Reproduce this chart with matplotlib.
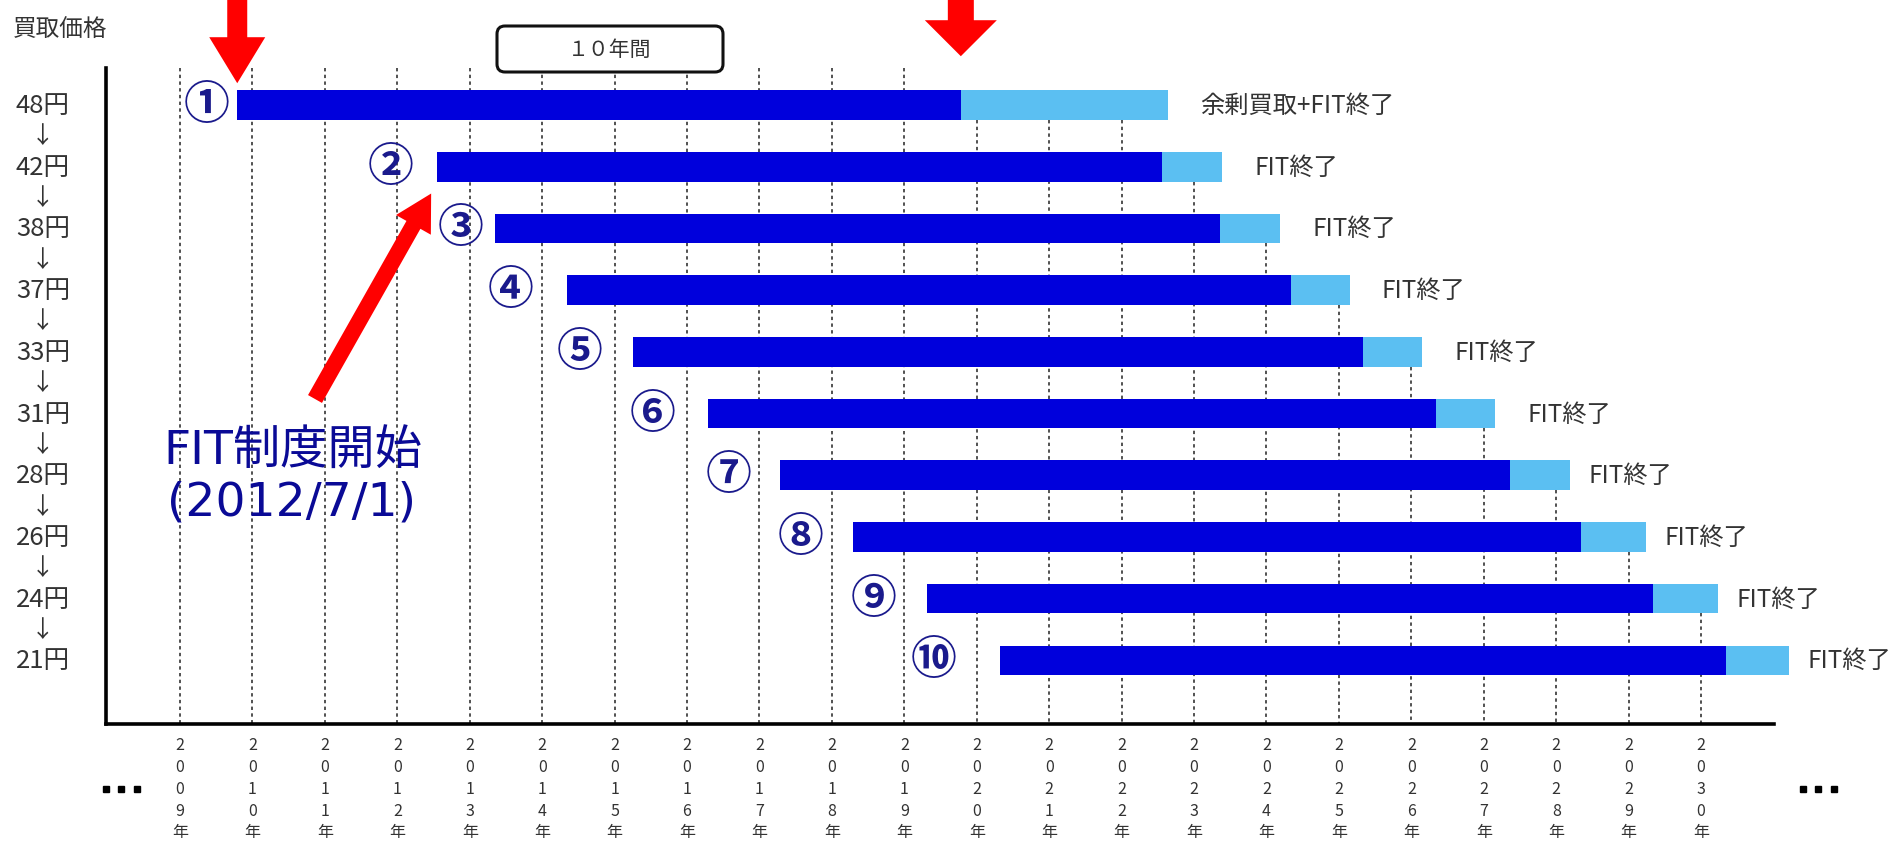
import matplotlib
matplotlib.use("Agg")
import matplotlib.pyplot as plt
import matplotlib.transforms as mtransforms
from matplotlib.patches import Polygon, FancyBboxPatch
from matplotlib.lines import Line2D
import numpy as np

plt.rcParams["font.family"] = ["Noto Sans CJK JP", "DejaVu Sans"]

### Data
prices = ["48円", "42円", "38円", "37円", "33円", "31円", "28円", "26円", "24円", "21円"]
badges = ["①", "②", "③", "④", "⑤", "⑥", "⑦", "⑧", "⑨", "⑩"]
start_year = [2009.79, 2012.55, 2013.35, 2014.34, 2015.25, 2016.29, 2017.28, 2018.29, 2019.31, 2020.32]
fit_end = [2019.78, 2022.56, 2023.36, 2024.34, 2025.33, 2026.34, 2027.36, 2028.34, 2029.34, 2030.34]
tail_end = [2022.64, 2023.39, 2024.19, 2025.15, 2026.15, 2027.16, 2028.19, 2029.24, 2030.23, 2031.21]
end_labels = ["余剰買取+FIT終了"] + ["FIT終了"] * 9
years = list(range(2009, 2031))

# layout only (x of the circled numbers, in years)
badge_x = [2009.37, 2011.91, 2012.88, 2013.56, 2014.52, 2015.53, 2016.57, 2017.57, 2018.58, 2019.40]

W, H = 1903, 845
DARK = "#0000dc"
LIGHT = "#5bbff2"
TXT = "#333333"
NAVY = "#0a0a96"

fig = plt.figure(figsize=(W / 100, H / 100), dpi=100)
# axes box: left axis at x=106px, bottom axis at y=725px, top at y=69px
ax = fig.add_axes([106 / W, 1 - 725 / H, (1774 - 106) / W, (725 - 69) / H])
ax.set_xlim(2007.978, 2031.007)
ax.set_ylim(11.032, 0.4)

rows = np.arange(1, len(prices) + 1)
bar_h = 0.48

ax.barh(rows, np.array(fit_end) - np.array(start_year), left=start_year,
        height=bar_h, color=DARK, zorder=3, clip_on=False)
ax.barh(rows, np.array(tail_end) - np.array(fit_end), left=fit_end,
        height=bar_h, color=LIGHT, zorder=3, clip_on=False)

for sp in ["top", "right"]:
    ax.spines[sp].set_visible(False)
for sp in ["left", "bottom"]:
    ax.spines[sp].set_linewidth(2.6)
    ax.spines[sp].set_zorder(5)

# end-of-bar labels
end_texts = []
for r, x, lab in zip(rows, tail_end, end_labels):
    off = 0.44 if r < 7 else 0.26
    t = ax.text(x + off, r, lab, ha="left", va="center", fontsize=17.5, color=TXT, zorder=4)
    end_texts.append(t)

# circled numbers
for r, x, b in zip(rows, badge_x, badges):
    ax.text(x, r, b, ha="center", va="center", fontsize=33, color="#1a1a8c",
            fontweight="bold", zorder=4)

# price labels on the left with arrows between them
ytr = mtransforms.blended_transform_factory(fig.transFigure, ax.transData)
for r, p in zip(rows, prices):
    ax.text(43 / W, r, p, transform=ytr, ha="center", va="center", fontsize=18.5, color=TXT)
    if r < len(prices):
        ax.text(43 / W, r + 0.5, "↓", transform=ytr, ha="center", va="center",
                fontsize=17, color=TXT)

fig.text(13 / W, 1 - 30 / H, "買取価格", ha="left", va="center", fontsize=17, color=TXT)

# x tick labels written vertically
ax.set_xticks(years)
ax.set_xticklabels(["\n".join(str(y)) + "\n年" for y in years], fontsize=11.5,
                   color=TXT, linespacing=1.36)
ax.tick_params(axis="x", length=0, pad=9)
ax.set_yticks([])

for xp in [106, 121, 137]:
    fig.add_artist(Line2D([xp / W], [1 - 790 / H], marker="s", markersize=4.5,
                          color="black", transform=fig.transFigure))
for xp in [1803, 1818, 1834]:
    fig.add_artist(Line2D([xp / W], [1 - 790 / H], marker="s", markersize=4.5,
                          color="black", transform=fig.transFigure))

# dashed year lines, starting below the rows whose end labels cover them
fig.canvas.draw()
renderer = fig.canvas.get_renderer()
inv = ax.transData.inverted()
label_right = []
for t in end_texts:
    bb = t.get_window_extent(renderer)
    label_right.append(inv.transform((bb.x1, bb.y0))[0])
for yr in years:
    top = ax.get_ylim()[1]
    for r in rows:
        if fit_end[r - 1] <= yr <= label_right[r - 1]:
            top = r + bar_h / 2
    ax.vlines(yr, top, ax.get_ylim()[0], colors="#222222", linestyles=(0, (2.2, 2.2)),
              linewidth=1.1, zorder=1)

# "10年間" box over the first bar
box = FancyBboxPatch((497, H - 73), 226, 46, boxstyle="round,pad=0,rounding_size=8",
                     transform=None, facecolor="white", edgecolor="#111111", linewidth=2.2)
fig.add_artist(box)
fig.text(610 / W, 1 - 50 / H, "１０年間", ha="center", va="center", fontsize=15, color=TXT)


def block_arrow(tail, tip, shaft_w, head_w, head_l):
    tail = np.array(tail, float)
    tip = np.array(tip, float)
    d = tip - tail
    L = np.hypot(*d)
    u = d / L
    n = np.array([-u[1], u[0]])
    base = tip - u * head_l
    pts = [tail + n * shaft_w / 2, base + n * shaft_w / 2, base + n * head_w / 2, tip,
           base - n * head_w / 2, base - n * shaft_w / 2, tail - n * shaft_w / 2]
    fig.add_artist(Polygon(pts, closed=True, transform=None, facecolor="#ff0000",
                           edgecolor="none", zorder=6))


# red arrows pointing at the bars
tip1 = ax.transData.transform((start_year[0], 1 - bar_h / 2))
block_arrow((tip1[0], H + 5), (tip1[0], tip1[1] + 7), 20, 56, 46)
tip2 = ax.transData.transform((fit_end[0], 1 - bar_h / 2))
block_arrow((tip2[0], H + 5), (tip2[0], tip2[1] + 34), 26, 72, 36)
tip3 = ax.transData.transform((start_year[1], 2 + bar_h / 2))
block_arrow((315, H - 400), (tip3[0] - 6, tip3[1] - 12), 16, 40, 36)

# annotation for the FIT start
fam = ["DejaVu Sans", "Noto Sans CJK JP"]
ax.text(2008.77, 6.59, "FIT制度開始", ha="left", va="center", fontsize=34,
        color=NAVY, family=fam)
ax.text(2008.82, 7.43, "(2012/7/1)", ha="left", va="center", fontsize=34,
        color=NAVY, family=fam)

fig.savefig("out.png", dpi=100, facecolor="white")
